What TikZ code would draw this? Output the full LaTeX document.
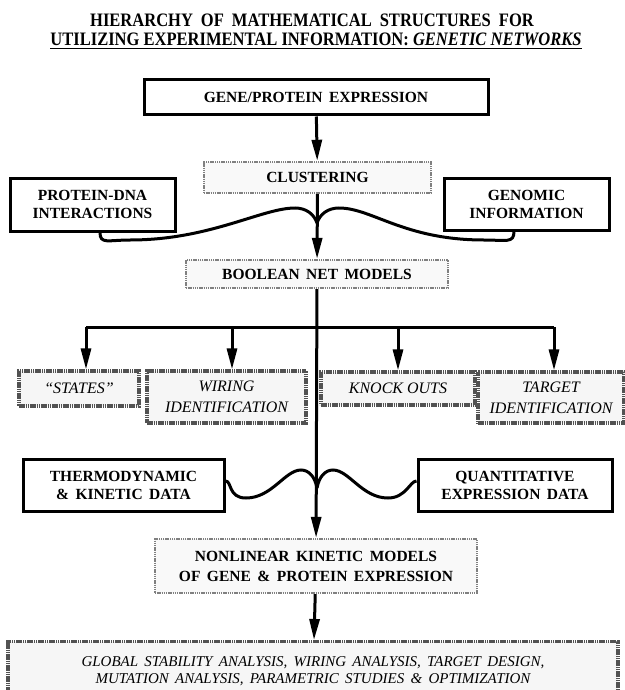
\documentclass[tikz,border=0pt]{standalone}
\usepackage{fontspec}
\setmainfont{Liberation Serif}
\newfontfamily\titlefont[FakeStretch=0.87]{Liberation Serif}
\usetikzlibrary{arrows.meta}
\newcommand\widesp{\spaceskip 0.42em\relax}
\begin{document}
\begin{tikzpicture}[x=1pt,y=-1pt,
  solidbox/.style={draw=black, line width=3pt, fill=white, inner sep=0pt, align=center,
    font=\bfseries\fontsize{15.5}{18}\selectfont\widesp},
  graybox/.style={draw=black!50, line width=2.4pt, dash pattern=on 1.4pt off 0.8pt,
    fill=gray!5, inner sep=0pt, align=center,
    font=\bfseries\fontsize{15.5}{20}\selectfont\widesp},
  darkbox/.style={draw=black!68, line width=3.2pt, dash pattern=on 1.6pt off 0.6pt,
    fill=gray!7, inner sep=0pt, align=center,
    font=\itshape\fontsize{16}{21}\selectfont},
  titletext/.style={inner sep=0pt, font=\titlefont\bfseries\fontsize{19}{22}\selectfont},
  widetitle/.style={inner sep=0pt, font=\titlefont\bfseries\fontsize{19}{22}\selectfont\widesp},
  conn/.style={line width=3pt},
  arr/.style={conn, -{Triangle[length=21pt,width=10pt]}}
]
\useasboundingbox (0,0) rectangle (624,690);

% title
\node[widetitle] (t1) at (312,20.5) {HIERARCHY OF MATHEMATICAL STRUCTURES FOR};
\node[titletext] (t2) at (316,39) {UTILIZING EXPERIMENTAL INFORMATION: \textit{GENETIC NETWORKS}};
\draw[line width=1.4pt] ([yshift=-3.5pt]t2.base west) -- ([yshift=-3.5pt]t2.base east);

% nodes
\node[solidbox, minimum width=344, minimum height=35] (gene) at (316,97.5) {GENE/PROTEIN EXPRESSION};
\node[graybox, minimum width=227, minimum height=31] (clust) at (317.5,177.5) {CLUSTERING};
\node[solidbox, minimum width=165, minimum height=53] (pdna) at (92.5,204.5) {PROTEIN-DNA\\INTERACTIONS};
\node[solidbox, minimum width=165, minimum height=52] (genom) at (526.5,204) {GENOMIC\\INFORMATION};
\node[graybox, minimum width=262, minimum height=28] (bool) at (317,274) {BOOLEAN NET MODELS};

\node[darkbox, minimum width=120, minimum height=35] (states) at (79,388.5) {``STATES''};
\node[darkbox, minimum width=159, minimum height=52] (wiring) at (226.5,397) {WIRING\\IDENTIFICATION};
\node[darkbox, minimum width=154, minimum height=33] (knock) at (398,388.5) {KNOCK OUTS};
\node[darkbox, minimum width=146, minimum height=51] (target) at (551,397.5) {TARGET\\IDENTIFICATION};

\node[solidbox, minimum width=201, minimum height=52] (thermo) at (123.5,485) {THERMODYNAMIC\\\&\ KINETIC DATA};
\node[solidbox, minimum width=194, minimum height=52] (quant) at (515,485) {QUANTITATIVE\\EXPRESSION DATA};
\node[graybox, minimum width=322, minimum height=54] (nonlin) at (316,566) {NONLINEAR KINETIC MODELS\\OF GENE \& PROTEIN EXPRESSION};

\node[darkbox, anchor=north, minimum width=610, minimum height=70] (final) at (313,640) {};
\node[inner sep=0pt, align=center, font=\itshape\fontsize{15}{17}\selectfont\widesp] (finaltxt) at (313,671.5)
  {GLOBAL STABILITY ANALYSIS, WIRING ANALYSIS, TARGET DESIGN,\\MUTATION ANALYSIS, PARAMETRIC STUDIES \& OPTIMIZATION};

% coordinates
\coordinate (cusp1) at (317,223);
\coordinate (cusp2) at (317,488);
\coordinate (barL) at (86,327);
\coordinate (b2) at (232,327);
\coordinate (b3) at (398,327);
\coordinate (barR) at (554,327);

% connectors
\draw[arr] (gene) -- (clust);
\draw[arr] (clust) -- (bool);
\draw[arr] (bool) -- (nonlin);
\draw[arr] (nonlin) -- (final);

\draw[conn] ([xshift=7.5pt]pdna.south) .. controls +(0,12) and (108,240) .. (130,240)
  .. controls (210,240) and (262,208) .. (295,208)
  .. controls (306,208) and (314,214) .. (cusp1);
\draw[conn] ([xshift=-12.5pt]genom.south) .. controls +(0,12) and (506,240) .. (484,240)
  .. controls (404,240) and (372,208) .. (339,208)
  .. controls (328,208) and (320,214) .. (cusp1);

\draw[conn] (barL) -- (barR);
\draw[arr] (barL) -- (barL |- states.north);
\draw[arr] (b2) -- (b2 |- wiring.north);
\draw[arr] (b3) -- (b3 |- knock.north);
\draw[arr] (barR) -- (barR |- target.north);

\draw[conn] ([yshift=4pt]thermo.east) .. controls (232,481) and (228,498) .. (246,498)
  .. controls (272,498) and (285,470) .. (301,470)
  .. controls (309,470) and (315,477) .. (cusp2);
\draw[conn] ([yshift=4pt]quant.west) .. controls (410,481) and (406,498) .. (388,498)
  .. controls (362,498) and (349,470) .. (333,470)
  .. controls (325,470) and (319,477) .. (cusp2);
\end{tikzpicture}
\end{document}
